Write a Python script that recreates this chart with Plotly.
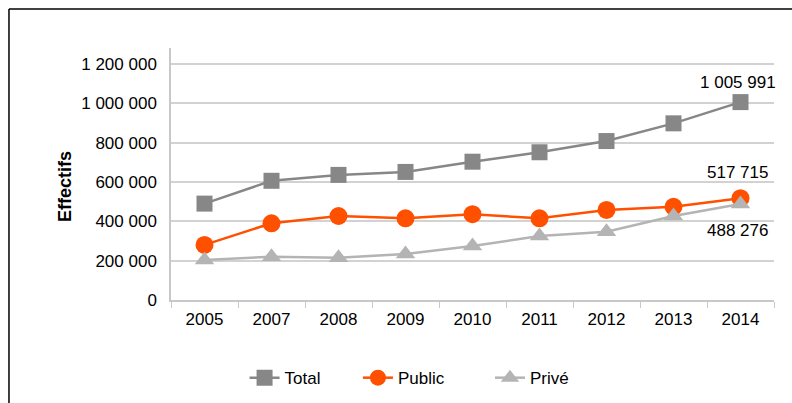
import plotly.graph_objects as go

years = ["2005", "2007", "2008", "2009", "2010", "2011", "2012", "2013", "2014"]
total = [490000, 606000, 636000, 651000, 703000, 751000, 808000, 898000, 1005991]
public = [280000, 390000, 427000, 415000, 436000, 415000, 458000, 474000, 517715]
prive = [203000, 220000, 215000, 234000, 275000, 325000, 347000, 427000, 488276]

FONT = "Liberation Sans, Arial, Helvetica, sans-serif"

fig = go.Figure()
fig.add_trace(go.Scatter(x=years, y=total, name="Total", mode="lines+markers",
                         line=dict(color="#878787", width=2.5), legend="legend",
                         marker=dict(symbol="square", size=16, color="#878787")))
fig.add_trace(go.Scatter(x=years, y=public, name="Public", mode="lines+markers",
                         line=dict(color="#FF5000", width=2.5), legend="legend2",
                         marker=dict(symbol="circle", size=18, color="#FF5000")))
fig.add_trace(go.Scatter(x=years, y=prive, name="Privé", mode="lines+markers",
                         line=dict(color="#B4B4B4", width=2.5), legend="legend3",
                         marker=dict(symbol="triangle-up", size=17, color="#B4B4B4")))

def fmt(v):
    return f"{v:,}".replace(",", " ")

last = len(years) - 1
annos = [
    (total[-1], 20),
    (public[-1], 26),
    (prive[-1], -27),
]
for val, ys in annos:
    fig.add_annotation(x=last, y=val, text=fmt(val), showarrow=False,
                       xref="x", yref="y", yshift=ys, xshift=-3,
                       font=dict(size=17, color="#000000", family=FONT))

fig.add_annotation(x=-0.176, y=0.452, xref="paper", yref="paper", text="<b>Effectifs</b>",
                   xanchor="center", yanchor="middle",
                   textangle=-90, showarrow=False, font=dict(size=18, color="#000", family=FONT))

# chart frame
fig.add_shape(type="line", xref="paper", yref="paper", x0=-0.2687, x1=1.03, y0=1.1548, y1=1.1548,
              line=dict(color="#000", width=1.5))
fig.add_shape(type="line", xref="paper", yref="paper", x0=-0.2687, x1=-0.2687, y0=1.1548, y1=-0.42,
              line=dict(color="#000", width=1.5))

leg = dict(orientation="h", y=-0.31, xanchor="left", yanchor="middle",
           font=dict(size=17, family=FONT), bgcolor="rgba(0,0,0,0)")

fig.update_layout(
    width=792, height=403,
    margin=dict(l=171, r=18, t=48, b=103, autoexpand=False),
    paper_bgcolor="white", plot_bgcolor="white",
    separators=", ",
    font=dict(family=FONT, size=17, color="#000"),
    showlegend=True,
    legend=dict(leg, x=0.122),
    legend2=dict(leg, x=0.310),
    legend3=dict(leg, x=0.529),
    xaxis=dict(type="category", showgrid=False, showline=True, linecolor="#C8C8C8", linewidth=1.5,
               ticks="outside", tickson="boundaries", ticklen=6, tickcolor="#C8C8C8", automargin=False,
               ticklabelstandoff=3, tickfont=dict(size=17), range=[-0.5, 8.5]),
    yaxis=dict(range=[0, 1281000], dtick=200000, tick0=0, tickformat=",d", automargin=False,
               showgrid=True, gridcolor="#D2D2D2", gridwidth=1.5,
               showline=True, linecolor="#C8C8C8", linewidth=1.5,
               ticks="", ticklabelstandoff=9, tickfont=dict(size=17), zeroline=False),
)

fig.write_html("out.html", config={"displayModeBar": False},
               post_script="document.body.style.margin='0';document.body.style.padding='0';")
